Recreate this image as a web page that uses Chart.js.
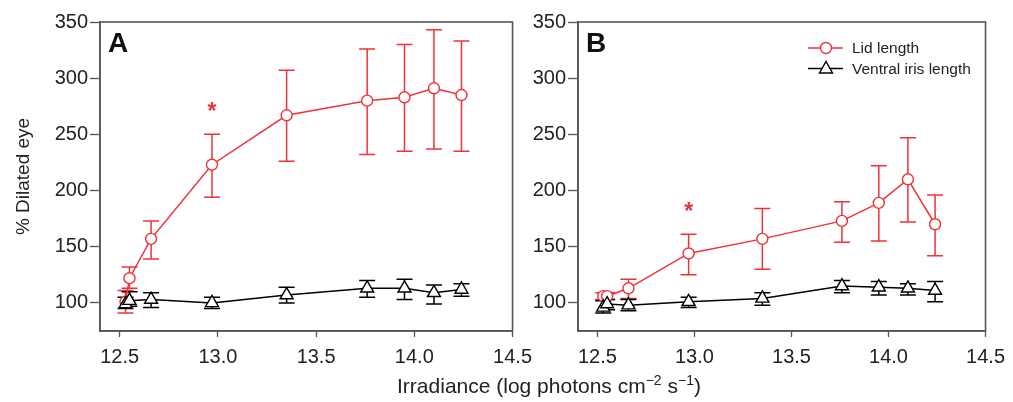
<!DOCTYPE html>
<html>
<head>
<meta charset="utf-8">
<script src="https://cdn.jsdelivr.net/npm/chart.js@4/dist/chart.umd.min.js"></script>
<style>
  body { margin: 0; background: #fff; width: 1013px; height: 402px; position: relative; overflow: hidden; }
  canvas { position: absolute; top: 0; }
  #chartA { left: 0; }
  #chartB { left: 520px; }
  #xTitle { position: absolute; left: 0; width: 1098px; top: 374px; text-align: center;
            font-family: 'Liberation Sans', Arial, sans-serif; font-size: 21px; color: #222; }
  #xTitle sup { font-size: 14px; vertical-align: 8px; line-height: 0; }
</style>
</head>
<body>
<canvas id="chartA" width="540" height="402"></canvas>
<canvas id="chartB" width="493" height="402"></canvas>
<div id="xTitle">Irradiance (log photons cm<sup>−2</sup> s<sup>−1</sup>)</div>
<script>
// eje x compartido (log de irradiancia)
const irradiance = [12.53, 12.55, 12.66, 12.97, 13.35, 13.76, 13.95, 14.10, 14.24];
const xTicks = [12.5, 13.0, 13.5, 14.0, 14.5];
const yTicks = [100, 150, 200, 250, 300, 350];

// Panel A
const lidA = [101, 122, 157, 223, 267, 280, 283, 291, 285];
const lidALo = [91, 113, 139, 194, 226, 232, 235, 237, 235];
const lidAHi = [111, 132, 173, 250, 307, 326, 330, 343, 333];
const irisA = [99, 102, 103, 100, 107, 113, 113, 109, 112];
const irisALo = [95, 97, 96, 95, 100, 105, 103, 99, 106];
const irisAHi = [105, 110, 109, 105, 114, 120, 121, 116, 117];

// Panel B
const lidB = [106, 106, 113, 144, 157, 173, 189, 210, 170];
const lidBLo = [103, 103, 104, 125, 130, 154, 155, 172, 142];
const lidBHi = [109, 109, 121, 161, 184, 190, 222, 247, 196];
const irisB = [96, 99, 98, 101, 104, 115, 114, 113, 111];
const irisBLo = [91, 94, 93, 96, 98, 109, 107, 107, 101];
const irisBHi = [102, 103, 103, 105, 109, 120, 119, 117, 119];

// asteriscos de significancia
const starA = { x: 12.97, y: 275 };
const starB = { x: 12.97, y: 186 };

const RED = "#ee3338";
const AXIS = "#555";
const FONT = "'Liberation Sans', Arial, sans-serif";

Chart.defaults.font.family = FONT;
Chart.defaults.color = "#222";

function pts(ys) {
  return irradiance.map((x, i) => ({ x: x, y: ys[i] }));
}

// barras de error (se dibujan debajo de los marcadores)
const errorBars = {
  id: "errorBars",
  beforeDatasetsDraw(chart) {
    const ctx = chart.ctx;
    const xs = chart.scales.x, ys = chart.scales.y;
    chart.data.datasets.forEach(ds => {
      ctx.save();
      ctx.strokeStyle = ds.borderColor;
      ctx.lineWidth = 1.5;
      ds.data.forEach((p, i) => {
        const px = xs.getPixelForValue(p.x);
        const top = ys.getPixelForValue(ds.errHi[i]);
        const bot = ys.getPixelForValue(ds.errLo[i]);
        ctx.beginPath();
        ctx.moveTo(px, top); ctx.lineTo(px, bot);
        ctx.moveTo(px - 8, top); ctx.lineTo(px + 8, top);
        ctx.moveTo(px - 8, bot); ctx.lineTo(px + 8, bot);
        ctx.stroke();
      });
      ctx.restore();
    });
  }
};

// marco, letra del panel y asterisco
const decor = {
  id: "decor",
  afterDraw(chart, args, opts) {
    const ctx = chart.ctx;
    const a = chart.chartArea;
    ctx.save();
    ctx.strokeStyle = AXIS;
    ctx.lineWidth = 1.6;
    ctx.strokeRect(a.left, a.top, a.right - a.left, a.bottom - a.top);
    ctx.fillStyle = "#111";
    ctx.font = "bold 28px " + FONT;
    ctx.textBaseline = "alphabetic";
    ctx.fillText(opts.letter, a.left + 8, a.top + 30);
    ctx.fillStyle = RED;
    ctx.font = "bold 23px " + FONT;
    ctx.textAlign = "center";
    ctx.fillText("*", chart.scales.x.getPixelForValue(opts.star.x),
                 chart.scales.y.getPixelForValue(opts.star.y) + 13);
    ctx.restore();
  }
};

// leyenda con línea + marcador
const legendBox = {
  id: "legendBox",
  afterDraw(chart, args, opts) {
    if (!opts.show) return;
    const ctx = chart.ctx;
    const x0 = opts.x, rows = chart.data.datasets;
    ctx.save();
    rows.forEach((ds, i) => {
      const y = opts.y + i * 20.5;
      ctx.strokeStyle = ds.borderColor;
      ctx.lineWidth = 1.5;
      ctx.beginPath();
      ctx.moveTo(x0, y); ctx.lineTo(x0 + 35, y);
      ctx.stroke();
      ctx.fillStyle = "#fff";
      ctx.lineWidth = 1.4;
      ctx.beginPath();
      if (ds.pointStyle === "circle") {
        ctx.arc(x0 + 18, y, 5.5, 0, Math.PI * 2);
      } else {
        ctx.moveTo(x0 + 18, y - 7);
        ctx.lineTo(x0 + 24.5, y + 4.5);
        ctx.lineTo(x0 + 11.5, y + 4.5);
        ctx.closePath();
      }
      ctx.fill();
      ctx.stroke();
      ctx.fillStyle = "#222";
      ctx.font = "15.5px " + FONT;
      ctx.textBaseline = "middle";
      ctx.fillText(ds.label, x0 + 44, y + 1);
    });
    ctx.restore();
  }
};

function makeChart(id, lid, lidLo, lidHi, iris, irisLo, irisHi, cfg) {
  return new Chart(document.getElementById(id), {
    type: "scatter",
    data: {
      datasets: [
        {
          label: "Lid length",
          data: pts(lid), errLo: lidLo, errHi: lidHi,
          showLine: true, borderColor: RED, borderWidth: 1.5,
          pointStyle: "circle", pointRadius: 5.5, pointBorderWidth: 1.4,
          pointBackgroundColor: "#fff", pointBorderColor: RED, order: 1
        },
        {
          label: "Ventral iris length",
          data: pts(iris), errLo: irisLo, errHi: irisHi,
          showLine: true, borderColor: "#000", borderWidth: 1.5,
          pointStyle: "triangle", pointRadius: 7.5, pointBorderWidth: 1.4,
          pointBackgroundColor: "#fff", pointBorderColor: "#000", order: 0
        }
      ]
    },
    options: {
      responsive: false,
      animation: false,
      devicePixelRatio: 1,
      layout: { padding: { top: 22, right: cfg.padRight, bottom: 0, left: 0 } },
      plugins: {
        legend: { display: false },
        tooltip: { enabled: false },
        decor: { letter: cfg.letter, star: cfg.star },
        legendBox: { show: cfg.legend, x: 288, y: 48 }
      },
      scales: {
        x: {
          type: "linear", min: 12.4, max: 14.5,
          afterBuildTicks: s => { s.ticks = xTicks.map(v => ({ value: v })); },
          afterFit: s => { s.height = 71; },
          border: { color: AXIS, width: 1.6 },
          grid: { drawOnChartArea: false, tickLength: 6, tickColor: AXIS, tickWidth: 1.3 },
          ticks: { padding: 8, font: { size: 20 }, color: "#222", callback: v => v.toFixed(1), maxRotation: 0 }
        },
        y: {
          type: "linear", min: 75, max: 350,
          afterBuildTicks: s => { s.ticks = yTicks.map(v => ({ value: v })); },
          afterFit: s => { s.width = cfg.yWidth; },
          border: { color: AXIS, width: 1.6 },
          grid: { drawOnChartArea: false, tickLength: 10, tickColor: AXIS, tickWidth: 1.3 },
          ticks: { padding: 2, font: { size: 20 }, color: "#222" },
          title: {
            display: cfg.yTitle, text: "% Dilated eye",
            font: { size: 19 }, color: "#222", padding: { top: 12, bottom: 0 }
          }
        }
      }
    },
    plugins: [errorBars, decor, legendBox]
  });
}

makeChart("chartA", lidA, lidALo, lidAHi, irisA, irisALo, irisAHi,
  { letter: "A", star: starA, legend: false, yTitle: true, yWidth: 100, padRight: 27 });
makeChart("chartB", lidB, lidBLo, lidBHi, irisB, irisBLo, irisBHi,
  { letter: "B", star: starB, legend: true, yTitle: false, yWidth: 58, padRight: 22 });
</script>
</body>
</html>
